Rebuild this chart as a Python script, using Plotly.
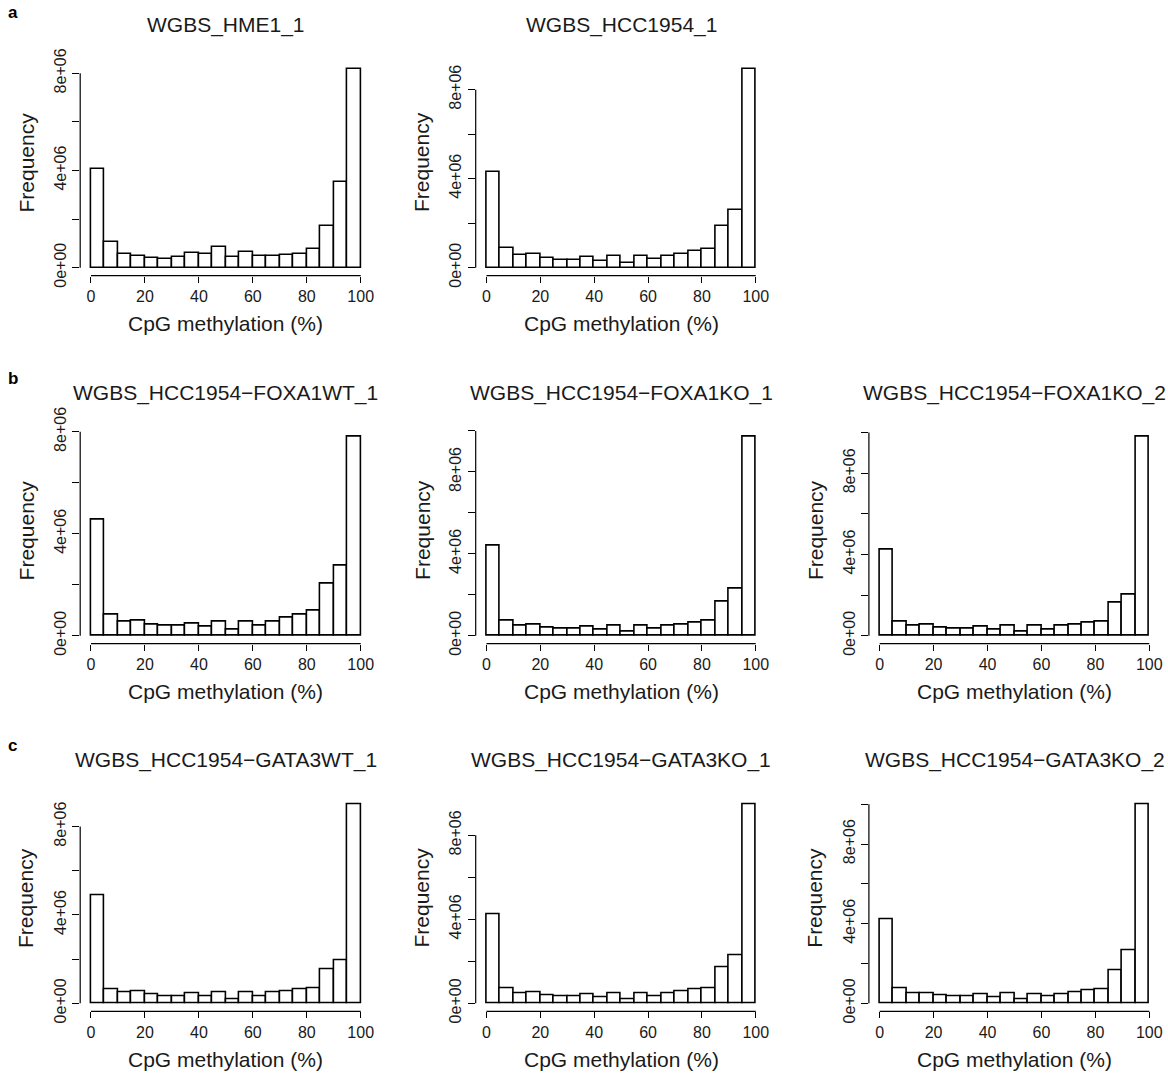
import plotly.graph_objects as go

# ---------------- data ----------------
bin_centers = [2.5, 7.5, 12.5, 17.5, 22.5, 27.5, 32.5, 37.5, 42.5, 47.5,
               52.5, 57.5, 62.5, 67.5, 72.5, 77.5, 82.5, 87.5, 92.5, 97.5]
bin_width = 5

# frequencies in millions of CpGs per 5% methylation bin
hme1_1 = [4.06, 1.04, 0.55, 0.49, 0.38, 0.34, 0.43, 0.62, 0.55, 0.84,
          0.43, 0.66, 0.48, 0.48, 0.51, 0.56, 0.78, 1.73, 3.54, 8.18]
hcc1954_1 = [4.30, 0.88, 0.58, 0.60, 0.45, 0.36, 0.36, 0.46, 0.31, 0.52,
             0.22, 0.52, 0.37, 0.52, 0.63, 0.76, 0.85, 1.87, 2.58, 8.93]
foxa1wt_1 = [4.57, 0.81, 0.55, 0.59, 0.45, 0.38, 0.38, 0.48, 0.35, 0.56,
             0.25, 0.56, 0.41, 0.56, 0.69, 0.82, 0.98, 2.03, 2.76, 7.81]
foxa1ko_1 = [4.40, 0.73, 0.49, 0.52, 0.39, 0.34, 0.34, 0.44, 0.29, 0.49,
             0.20, 0.49, 0.33, 0.47, 0.55, 0.65, 0.72, 1.66, 2.28, 9.72]
foxa1ko_2 = [4.22, 0.69, 0.49, 0.53, 0.39, 0.33, 0.33, 0.44, 0.31, 0.49,
             0.20, 0.49, 0.31, 0.48, 0.53, 0.62, 0.69, 1.63, 2.04, 9.80]
gata3wt_1 = [4.91, 0.65, 0.50, 0.53, 0.39, 0.33, 0.33, 0.45, 0.32, 0.51,
             0.18, 0.51, 0.33, 0.48, 0.56, 0.63, 0.66, 1.55, 1.93, 9.01]
gata3ko_1 = [4.22, 0.71, 0.49, 0.52, 0.40, 0.32, 0.32, 0.43, 0.29, 0.49,
             0.19, 0.49, 0.33, 0.48, 0.57, 0.68, 0.73, 1.71, 2.30, 9.48]
gata3ko_2 = [4.24, 0.77, 0.50, 0.52, 0.40, 0.34, 0.34, 0.44, 0.30, 0.49,
             0.20, 0.47, 0.34, 0.45, 0.55, 0.64, 0.72, 1.64, 2.67, 10.0]

sample_titles = ["WGBS_HME1_1", "WGBS_HCC1954_1",
                 "WGBS_HCC1954\u2212FOXA1WT_1", "WGBS_HCC1954\u2212FOXA1KO_1",
                 "WGBS_HCC1954\u2212FOXA1KO_2",
                 "WGBS_HCC1954\u2212GATA3WT_1", "WGBS_HCC1954\u2212GATA3KO_1",
                 "WGBS_HCC1954\u2212GATA3KO_2"]
sample_counts = [hme1_1, hcc1954_1, foxa1wt_1, foxa1ko_1, foxa1ko_2,
                 gata3wt_1, gata3ko_1, gata3ko_2]

x_tick_vals = [0, 20, 40, 60, 80, 100]
y_tick_vals = [0, 2e6, 4e6, 6e6, 8e6, 1e7]
y_tick_text = ["0e+00", "", "4e+06", "", "8e+06", ""]
x_label = "CpG methylation (%)"
y_label = "Frequency"
panel_letters = ["a", "b", "c"]

# ---------------- layout ----------------
W, H = 1168, 1077
FONT = "Liberation Sans, Arial, Helvetica, sans-serif"
TXT = "#1a1a1a"

panel_cells = [(0, 0), (0, 1), (1, 0), (1, 1), (1, 2), (2, 0), (2, 1), (2, 2)]
col_px = [(80.2, 371.5), (475.7, 766.5), (868.9, 1160.1)]
row_px = [(61.0, 275.6), (428.7, 643.7), (796.3, 1011.3)]


def px_x(p):
    return p / W


def px_y(p):
    return 1 - p / H


fig = go.Figure()
layout = dict(template="none", width=W, height=H,
              margin=dict(l=0, r=0, t=0, b=0, pad=0, autoexpand=False),
              paper_bgcolor="white", plot_bgcolor="white",
              font=dict(family=FONT, color=TXT), bargap=0, showlegend=False)
shapes, annotations = [], []

for k, (title, counts, (r, c)) in enumerate(zip(sample_titles, sample_counts, panel_cells), start=1):
    xa = "x" if k == 1 else f"x{k}"
    ya = "y" if k == 1 else f"y{k}"
    xkey = "xaxis" if k == 1 else f"xaxis{k}"
    ykey = "yaxis" if k == 1 else f"yaxis{k}"
    freqs = [v * 1e6 for v in counts]
    ymax = max(freqs)
    ytop = 1.04 * ymax
    axis_top = max(t for t in y_tick_vals if t <= ytop)

    fig.add_trace(go.Bar(x=bin_centers, y=freqs, width=bin_width,
                         marker=dict(color="white", line=dict(color="black", width=1.6)),
                         xaxis=xa, yaxis=ya, hoverinfo="x+y"))

    x0, x1 = col_px[c]
    y0, y1 = row_px[r]
    layout[xkey] = dict(domain=[px_x(x0), px_x(x1)], anchor=ya, range=[-4, 104],
                        automargin=False,
                        tickvals=x_tick_vals, ticks="outside", ticklen=6, tickwidth=1.2,
                        tickcolor="black", showline=False, showgrid=False, zeroline=False,
                        tickfont=dict(size=16, color=TXT, family=FONT), ticklabelstandoff=0)
    layout[ykey] = dict(domain=[px_y(y1), px_y(y0)], anchor=xa, range=[-0.04 * ymax, ytop],
                        automargin=False,
                        tickvals=y_tick_vals, ticktext=y_tick_text, tickangle=-90,
                        ticks="outside", ticklen=7, tickwidth=1.2, tickcolor="black",
                        showline=False, showgrid=False, zeroline=False,
                        tickfont=dict(size=16, color=TXT, family=FONT), ticklabelstandoff=0)

    shapes.append(dict(type="line", xref=xa, yref=f"{ya} domain", x0=0, x1=100, y0=0, y1=0,
                       line=dict(color="black", width=1.2)))
    shapes.append(dict(type="line", xref=f"{xa} domain", yref=ya, x0=0, x1=0, y0=0, y1=axis_top,
                       line=dict(color="black", width=1.2)))

    cx = (x0 + x1) / 2
    annotations.append(dict(text=title, x=px_x(cx), y=px_y(y0 - 36), xref="paper", yref="paper",
                            showarrow=False, xanchor="center", yanchor="middle",
                            font=dict(size=21, family=FONT, color=TXT)))
    annotations.append(dict(text=x_label, x=px_x(cx), y=px_y(y1 + 48), xref="paper", yref="paper",
                            showarrow=False, xanchor="center", yanchor="middle",
                            font=dict(size=21, family=FONT, color=TXT)))
    annotations.append(dict(text=y_label, x=px_x(x0 - 54), y=px_y((y0 + y1) / 2 - 6),
                            xref="paper", yref="paper", textangle=-90,
                            showarrow=False, xanchor="center", yanchor="middle",
                            font=dict(size=21, family=FONT, color=TXT)))

letter_pos = [(13, 13), (13, 379), (12, 745)]
for letter, (lx, ly) in zip(panel_letters, letter_pos):
    annotations.append(dict(text=f"<b>{letter}</b>", x=px_x(lx), y=px_y(ly), xref="paper", yref="paper",
                            showarrow=False, xanchor="center", yanchor="middle",
                            font=dict(size=17, family=FONT, color="black")))

layout["shapes"] = shapes
layout["annotations"] = annotations
fig.update_layout(**layout)
fig.write_html("out.html", config={"displayModeBar": False},
               post_script="document.body.style.margin='0';document.body.style.overflow='hidden';")
